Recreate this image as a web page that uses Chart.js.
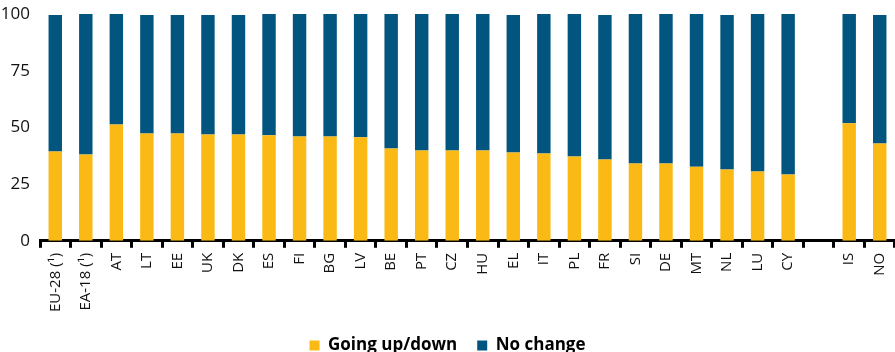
<!DOCTYPE html>
<html>
<head>
<meta charset="utf-8">
<title>Going up/down vs no change</title>
<script src="https://cdn.jsdelivr.net/npm/chart.js@4.4.0/dist/chart.umd.min.js"></script>
<style>
  html, body { margin: 0; padding: 0; background: #fff; }
  #wrap { width: 895px; height: 352px; }
</style>
</head>
<body>
<div id="wrap"><canvas id="chart" width="895" height="352"></canvas></div>
<script>
// categories (empty slot separates the EU countries from IS / NO)
const countries = ['EU-28 (¹)', 'EA-18 (¹)', 'AT', 'LT', 'EE', 'UK', 'DK', 'ES', 'FI', 'BG', 'LV', 'BE', 'PT',
  'CZ', 'HU', 'EL', 'IT', 'PL', 'FR', 'SI', 'DE', 'MT', 'NL', 'LU', 'CY', '', 'IS', 'NO'];

// share (%)
const goingUpDown = [39.4, 38.1, 51.3, 47.3, 47.3, 46.9, 46.9, 46.5, 46.0, 46.0, 45.6, 40.7, 39.8,
  39.8, 39.8, 38.9, 38.5, 37.2, 35.8, 34.1, 34.1, 32.7, 31.4, 30.5, 29.2, null, 51.8, 42.9];
const noChange = [60.2, 61.9, 48.7, 52.3, 52.3, 52.7, 52.7, 53.5, 54.0, 54.0, 54.4, 59.3, 60.2,
  60.2, 60.2, 60.7, 61.5, 62.8, 63.8, 65.9, 65.9, 67.3, 68.2, 69.5, 70.8, null, 48.2, 56.7];

const yTicks = [0, 25, 50, 75, 100];

const YELLOW = '#FBB915';
const BLUE = '#02557F';

const ctx = document.getElementById('chart').getContext('2d');
new Chart(ctx, {
  type: 'bar',
  data: {
    labels: countries,
    datasets: [
      { label: 'Going up/down', data: goingUpDown, backgroundColor: YELLOW },
      { label: 'No change', data: noChange, backgroundColor: BLUE }
    ]
  },
  options: {
    responsive: false,
    animation: false,
    layout: { padding: { top: 0, right: 0, left: 0, bottom: -12 } },
    datasets: { bar: { barPercentage: 0.44, categoryPercentage: 1 } },
    plugins: {
      legend: {
        position: 'bottom',
        labels: {
          boxWidth: 10,
          boxHeight: 10,
          padding: 20,
          color: '#000',
          font: { family: 'Open Sans', size: 17, weight: 'bold' }
        }
      },
      tooltip: { enabled: false }
    },
    scales: {
      x: {
        stacked: true,
        afterFit: (axis) => { axis.paddingRight = 0; axis.paddingLeft = 0; },
        grid: {
          drawOnChartArea: false,
          offset: true,
          color: '#000',
          lineWidth: 3,
          tickLength: 7
        },
        border: { color: '#000', width: 3 },
        ticks: {
          autoSkip: false,
          minRotation: 90,
          maxRotation: 90,
          padding: 5,
          color: '#111',
          font: { family: 'Open Sans', size: 15 }
        }
      },
      y: {
        stacked: true,
        min: 0,
        max: 100,
        afterBuildTicks: (axis) => { axis.ticks = yTicks.map(v => ({ value: v })); },
        afterFit: (axis) => { axis.width = 40; axis.paddingTop = 14; },
        grid: { display: false },
        border: { display: false },
        ticks: {
          padding: 2,
          color: '#111',
          font: { family: 'Open Sans', size: 17 }
        }
      }
    }
  }
});
</script>
</body>
</html>
